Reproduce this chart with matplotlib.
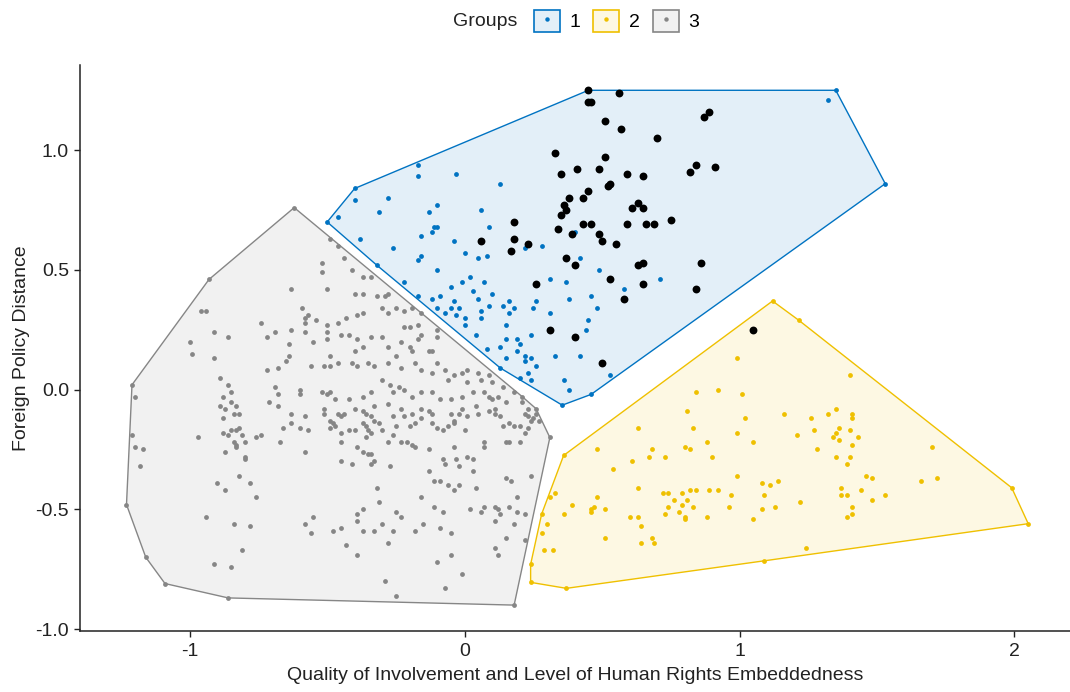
import numpy as np
import matplotlib
matplotlib.use("Agg")
import matplotlib.pyplot as plt
from matplotlib.patches import Polygon, Patch
from matplotlib.lines import Line2D

plt.rcParams["font.family"] = ["Liberation Sans", "DejaVu Sans"]
plt.rcParams["axes.unicode_minus"] = False

# group 3 (grey)
grp3 = [
    (-0.62, 0.76), (-0.93, 0.46), (-1.21, 0.02), (-1.21, -0.19), (-1.23, -0.48), (-1.16, -0.70),
    (-1.09, -0.81), (-0.86, -0.87), (0.18, -0.90), (0.31, -0.20), (0.26, -0.08),
    (-0.49, 0.63), (-0.52, 0.53), (-0.52, 0.49), (-0.63, 0.42), (-0.50, 0.42), (-0.96, 0.33),
    (-0.94, 0.33), (-0.59, 0.34), (-0.58, 0.30), (-0.57, 0.31), (-0.58, 0.28), (-0.54, 0.29),
    (-0.50, 0.27), (-0.74, 0.28), (-0.63, 0.25), (-0.58, 0.24), (-0.50, 0.24), (-0.91, 0.24),
    (-0.86, 0.22), (-1.00, 0.20), (-0.72, 0.22), (-0.69, 0.24), (-0.55, 0.20), (-0.50, 0.21),
    (-0.64, 0.19), (-0.99, 0.15), (-0.64, 0.14), (-0.65, 0.12), (-0.49, 0.14), (-0.91, 0.13),
    (-0.56, 0.10), (-0.51, 0.10), (-0.72, 0.08), (-0.68, 0.09), (-1.20, -0.03), (-0.89, 0.05),
    (-0.86, 0.02), (-0.69, 0.01), (-0.68, -0.02), (-0.60, 0.00), (-0.60, -0.02), (-0.52, -0.01),
    (-0.50, -0.02), (-0.85, -0.01), (-0.88, -0.03), (-0.85, -0.05), (-0.83, -0.07), (-0.89, -0.07),
    (-0.87, -0.08), (-0.84, -0.10), (-0.82, -0.10), (-0.71, -0.05), (-0.68, -0.07), (-0.63, -0.10),
    (-0.58, -0.11), (-0.51, -0.08),
    (-1.20, -0.24), (-1.17, -0.25), (-1.18, -0.32), (-0.97, -0.20), (-0.88, -0.12), (-0.88, -0.18),
    (-0.86, -0.19), (-0.85, -0.17), (-0.83, -0.17), (-0.82, -0.16), (-0.81, -0.19), (-0.84, -0.22),
    (-0.83, -0.23), (-0.83, -0.24), (-0.87, -0.26), (-0.80, -0.22), (-0.80, -0.28), (-0.80, -0.29),
    (-0.76, -0.20), (-0.74, -0.19), (-0.66, -0.16), (-0.63, -0.14), (-0.60, -0.16), (-0.57, -0.17),
    (-0.67, -0.22), (-0.58, -0.26), (-0.49, -0.13), (-0.49, -0.16), (-0.82, -0.36), (-0.90, -0.39),
    (-0.87, -0.42), (-0.78, -0.39), (-0.76, -0.45), (-0.94, -0.53), (-0.84, -0.56), (-0.78, -0.57),
    (-0.81, -0.67), (-0.91, -0.73), (-0.85, -0.74), (-0.58, -0.56), (-0.55, -0.53), (-0.56, -0.60),
    (-0.48, -0.59),
    (-0.48, -0.14), (-0.47, -0.15), (-0.45, -0.11), (-0.44, -0.10), (-0.37, -0.09), (-0.34, -0.11),
    (-0.33, -0.13), (-0.31, -0.14), (-0.36, -0.15), (-0.35, -0.17), (-0.34, -0.18), (-0.36, -0.20),
    (-0.40, -0.17), (-0.42, -0.17), (-0.45, -0.18), (-0.45, -0.22), (-0.37, -0.14), (-0.30, -0.17),
    (-0.26, -0.19), (-0.28, -0.22), (-0.26, -0.11), (-0.22, -0.11), (-0.25, -0.15), (-0.23, -0.22),
    (-0.21, -0.22), (-0.19, -0.23), (-0.18, -0.24), (-0.20, -0.15), (-0.18, -0.14), (-0.16, -0.12),
    (-0.13, -0.09), (-0.12, -0.14), (-0.10, -0.16), (-0.08, -0.17), (-0.06, -0.15), (-0.04, -0.14),
    (-0.04, -0.13), (-0.02, -0.10), (0.00, -0.17), (0.01, -0.11), (0.05, -0.10), (0.07, -0.22),
    (0.07, -0.24), (0.11, -0.10), (0.13, -0.11), (0.14, -0.15), (0.16, -0.14), (0.18, -0.15),
    (0.20, -0.15), (0.22, -0.18), (0.23, -0.11), (0.24, -0.13), (0.26, -0.10), (0.27, -0.13),
    (0.15, -0.22), (0.16, -0.22), (0.20, -0.22), (-0.39, -0.24), (-0.37, -0.26), (-0.35, -0.27),
    (-0.34, -0.27), (-0.33, -0.30), (-0.34, -0.31), (-0.45, -0.30), (-0.41, -0.31), (-0.27, -0.32),
    (-0.13, -0.25), (-0.04, -0.24), (-0.03, -0.29), (-0.08, -0.29), (-0.07, -0.31), (-0.02, -0.32),
    (0.01, -0.28), (0.03, -0.29), (0.03, -0.34), (-0.13, -0.34), (-0.11, -0.38), (-0.09, -0.38),
    (-0.06, -0.40), (-0.04, -0.42), (-0.02, -0.40), (0.04, -0.41), (0.24, -0.36), (0.15, -0.37),
    (0.17, -0.38), (0.19, -0.45), (0.16, -0.49), (0.19, -0.51), (0.22, -0.52), (0.02, -0.50),
    (0.06, -0.51), (0.07, -0.49), (0.11, -0.49), (0.12, -0.50), (0.13, -0.52), (0.11, -0.55),
    (0.18, -0.56), (0.15, -0.62), (0.22, -0.63), (0.11, -0.66), (0.12, -0.69), (-0.05, -0.69),
    (-0.01, -0.77), (-0.10, -0.72), (-0.07, -0.83), (-0.05, -0.60), (-0.09, -0.58), (-0.08, -0.51),
    (-0.11, -0.49), (-0.16, -0.45), (-0.15, -0.56), (-0.18, -0.59), (-0.23, -0.53), (-0.25, -0.51),
    (-0.32, -0.41), (-0.31, -0.47), (-0.37, -0.50), (-0.39, -0.52), (-0.39, -0.55), (-0.37, -0.59),
    (-0.33, -0.59), (-0.30, -0.56), (-0.26, -0.59), (-0.28, -0.64), (-0.45, -0.58), (-0.43, -0.65),
    (-0.39, -0.69), (-0.29, -0.80), (-0.25, -0.86),
    (-0.46, 0.60), (-0.44, 0.55), (-0.41, 0.50), (-0.37, 0.47), (-0.34, 0.47), (-0.40, 0.40),
    (-0.37, 0.40), (-0.32, 0.39), (-0.29, 0.39), (-0.28, 0.40), (-0.25, 0.34), (-0.22, 0.33),
    (-0.19, 0.34), (-0.16, 0.32), (-0.30, 0.34), (-0.28, 0.32), (-0.39, 0.31), (-0.37, 0.32),
    (-0.43, 0.30), (-0.46, 0.28), (-0.45, 0.23), (-0.42, 0.23), (-0.39, 0.21), (-0.37, 0.18),
    (-0.40, 0.16), (-0.34, 0.22), (-0.30, 0.22), (-0.22, 0.26), (-0.20, 0.26), (-0.17, 0.27),
    (-0.16, 0.23), (-0.17, 0.21), (-0.10, 0.25), (-0.10, 0.22), (-0.13, 0.16), (-0.12, 0.16),
    (-0.28, 0.18), (-0.23, 0.20), (-0.20, 0.18), (-0.19, 0.16), (-0.25, 0.14), (-0.46, 0.11),
    (-0.49, 0.10), (-0.41, 0.11), (-0.39, 0.10), (-0.35, 0.11), (-0.33, 0.10), (-0.28, 0.11),
    (-0.23, 0.09), (-0.18, 0.11), (-0.16, 0.08), (-0.10, 0.11), (-0.07, 0.08), (-0.12, 0.07),
    (-0.01, 0.07), (-0.04, 0.06), (0.01, 0.08), (0.05, 0.07), (0.09, 0.06), (-0.06, 0.04),
    (0.01, 0.03), (0.06, 0.04), (0.10, 0.03), (0.07, -0.01), (0.14, 0.01), (0.18, -0.01),
    (0.21, -0.03), (-0.49, -0.01), (-0.47, -0.04), (-0.42, -0.04), (-0.37, -0.03), (-0.34, -0.01),
    (-0.30, 0.04), (-0.27, 0.02), (-0.26, -0.01), (-0.24, 0.01), (-0.22, 0.00), (-0.19, -0.03),
    (-0.16, -0.01), (-0.12, -0.01), (-0.09, -0.04), (-0.05, -0.04), (-0.01, -0.03), (0.03, -0.01),
    (0.09, -0.03), (0.10, -0.04), (0.12, -0.03), (0.15, -0.05), (0.21, -0.05), (0.23, -0.08),
    (-0.51, -0.10), (-0.46, -0.10), (-0.40, -0.08), (-0.36, -0.10), (-0.33, -0.07), (-0.28, -0.06),
    (-0.23, -0.08), (-0.19, -0.10), (-0.16, -0.08), (-0.12, -0.10), (-0.05, -0.10), (-0.01, -0.08),
    (0.04, -0.07), (0.09, -0.09), (0.11, -0.08), (0.22, -0.10), (0.25, -0.12), (0.23, -0.16),
]

# group 1 (blue)
grp1 = [
    (-0.50, 0.70), (-0.40, 0.84), (-0.17, 0.94), (1.35, 1.25), (1.53, 0.86), (0.46, -0.02),
    (0.355, -0.065), (-0.32, 0.52), (0.13, 0.09),
    (-0.46, 0.72), (-0.40, 0.79), (-0.17, 0.89), (-0.03, 0.90), (0.13, 0.86), (-0.28, 0.80),
    (-0.31, 0.74), (-0.13, 0.74), (-0.10, 0.77), (-0.11, 0.68), (-0.10, 0.68), (-0.12, 0.66),
    (-0.16, 0.64), (-0.38, 0.63), (-0.26, 0.59), (-0.16, 0.56), (-0.17, 0.54), (-0.10, 0.50),
    (-0.04, 0.62), (0.00, 0.57), (0.06, 0.75), (0.09, 0.68), (0.05, 0.55), (0.08, 0.56),
    (-0.22, 0.45), (-0.17, 0.39), (-0.12, 0.38), (-0.09, 0.39), (-0.05, 0.43), (-0.01, 0.45),
    (0.02, 0.47), (0.07, 0.45), (0.03, 0.41), (0.10, 0.40), (-0.04, 0.37), (-0.05, 0.34),
    (-0.02, 0.34), (-0.07, 0.32), (-0.10, 0.34), (-0.03, 0.31), (0.00, 0.30), (0.00, 0.27),
    (0.05, 0.38), (0.06, 0.33), (0.06, 0.30), (0.09, 0.35), (0.14, 0.35), (0.16, 0.37),
    (0.16, 0.32), (0.18, 0.34), (0.15, 0.27), (0.04, 0.23), (0.08, 0.17), (0.13, 0.18),
    (0.15, 0.21), (0.19, 0.21), (0.20, 0.19), (0.15, 0.13), (0.19, 0.16), (0.22, 0.14),
    (0.24, 0.13), (0.26, 0.10), (0.23, 0.07), (0.20, 0.05), (0.24, 0.04), (0.22, 0.59),
    (0.28, 0.60), (0.31, 0.46), (0.37, 0.45), (0.26, 0.37), (0.25, 0.34), (0.31, 0.32),
    (0.24, 0.23), (0.33, 0.14), (0.36, 0.04), (0.38, 0.00), (1.32, 1.21), (0.40, 0.66),
    (0.42, 0.55), (0.49, 0.50), (0.38, 0.38), (0.46, 0.39), (0.48, 0.34), (0.45, 0.29),
    (0.44, 0.25), (0.58, 0.42), (0.71, 0.46), (0.42, 0.14), (0.53, 0.06), (0.22, 0.12),
]

# group 2 (yellow)
grp2 = [
    (1.12, 0.37), (1.215, 0.29), (1.99, -0.41), (2.05, -0.56), (1.09, -0.715), (0.37, -0.83),
    (0.24, -0.805), (0.24, -0.73), (0.36, -0.275),
    (0.99, 0.13), (0.84, -0.01), (0.92, 0.00), (1.01, -0.02), (0.81, -0.09), (0.63, -0.16),
    (0.83, -0.16), (1.02, -0.12), (0.99, -0.18), (1.05, -0.22), (0.88, -0.22), (0.80, -0.24),
    (0.82, -0.25), (0.68, -0.25), (0.67, -0.28), (0.73, -0.28), (0.48, -0.25), (0.61, -0.30),
    (0.90, -0.28), (0.54, -0.33), (0.99, -0.36), (0.33, -0.43), (0.31, -0.45), (0.39, -0.48),
    (0.36, -0.52), (0.28, -0.52), (0.30, -0.56), (0.28, -0.60), (0.29, -0.67), (0.32, -0.67),
    (0.48, -0.45), (0.46, -0.50), (0.46, -0.51), (0.47, -0.49), (0.51, -0.50), (0.51, -0.62),
    (0.60, -0.53), (0.63, -0.53), (0.64, -0.57), (0.64, -0.64), (0.68, -0.62), (0.69, -0.64),
    (0.63, -0.41), (0.72, -0.43), (0.74, -0.43), (0.79, -0.43), (0.82, -0.42), (0.84, -0.42),
    (0.89, -0.42), (0.92, -0.42), (0.97, -0.44), (0.76, -0.46), (0.74, -0.49), (0.81, -0.46),
    (0.79, -0.48), (0.83, -0.49), (0.78, -0.51), (0.80, -0.53), (0.80, -0.54), (0.73, -0.52),
    (0.88, -0.53), (0.96, -0.49), (1.08, -0.39), (1.11, -0.40), (1.14, -0.38), (1.09, -0.44),
    (1.08, -0.50), (1.13, -0.49), (1.05, -0.54),
    (1.40, 0.06), (1.16, -0.10), (1.26, -0.12), (1.32, -0.10), (1.35, -0.08), (1.41, -0.12),
    (1.41, -0.10), (1.27, -0.17), (1.21, -0.19), (1.36, -0.16), (1.35, -0.18), (1.40, -0.17),
    (1.34, -0.20), (1.36, -0.21), (1.43, -0.20), (1.41, -0.23), (1.28, -0.25), (1.35, -0.28),
    (1.40, -0.28), (1.39, -0.31), (1.70, -0.24), (1.66, -0.38), (1.72, -0.37), (1.46, -0.36),
    (1.48, -0.37), (1.44, -0.42), (1.53, -0.44), (1.48, -0.46), (1.37, -0.41), (1.37, -0.44),
    (1.39, -0.44), (1.41, -0.49), (1.39, -0.53), (1.41, -0.52), (1.22, -0.47), (1.24, -0.66),
]

# highlighted cases, with the group each belongs to
marked = [
    (0.33, 0.99), (0.35, 0.90), (0.38, 0.80), (0.36, 0.77), (0.37, 0.75), (0.35, 0.73),
    (0.34, 0.67), (0.39, 0.65), (0.18, 0.70), (0.06, 0.62), (0.18, 0.63), (0.23, 0.61),
    (0.17, 0.58), (0.37, 0.55), (0.26, 0.44), (0.31, 0.25),
    (0.45, 1.25), (0.56, 1.24), (0.45, 1.20), (0.46, 1.20), (0.51, 1.12), (0.57, 1.09),
    (0.70, 1.05), (0.87, 1.14), (0.89, 1.16), (0.51, 0.97), (0.49, 0.92), (0.41, 0.92),
    (0.59, 0.90), (0.65, 0.89), (0.82, 0.91), (0.84, 0.94), (0.91, 0.93), (0.52, 0.85),
    (0.53, 0.86), (0.45, 0.83), (0.43, 0.80), (0.61, 0.76), (0.63, 0.78), (0.65, 0.76),
    (0.75, 0.71), (0.43, 0.69), (0.46, 0.69), (0.59, 0.69), (0.66, 0.69), (0.69, 0.69),
    (0.49, 0.65), (0.50, 0.62), (0.55, 0.61), (0.40, 0.52), (0.63, 0.52), (0.65, 0.53),
    (0.86, 0.53), (0.53, 0.46), (0.65, 0.44), (0.84, 0.42), (0.58, 0.38), (0.40, 0.22),
    (0.50, 0.11), (1.05, 0.25),
]
marked_grp = [1] * 59 + [2]

groups = ["1", "2", "3"]
colors = {"1": "#0073C2", "2": "#EFC000", "3": "#868686"}


def convex_hull(pts):
    pts = sorted(set(map(tuple, pts)))
    if len(pts) < 3:
        return pts

    def cross(o, a, b):
        return (a[0] - o[0]) * (b[1] - o[1]) - (a[1] - o[1]) * (b[0] - o[0])

    lower, upper = [], []
    for p in pts:
        while len(lower) >= 2 and cross(lower[-2], lower[-1], p) <= 0:
            lower.pop()
        lower.append(p)
    for p in reversed(pts):
        while len(upper) >= 2 and cross(upper[-2], upper[-1], p) <= 0:
            upper.pop()
        upper.append(p)
    return lower[:-1] + upper[:-1]


members = {
    "1": grp1 + [p for p, g in zip(marked, marked_grp) if g == 1],
    "2": grp2 + [p for p, g in zip(marked, marked_grp) if g == 2],
    "3": grp3,
}
dots = {"1": np.array(grp1), "2": np.array(grp2), "3": np.array(grp3)}

fig = plt.figure(figsize=(10.7, 6.92), dpi=100)
ax = fig.add_axes([0.0748, 0.0882, 0.9252, 0.818])

for g in groups:
    hull = convex_hull(members[g])
    ax.add_patch(Polygon(hull, closed=True, facecolor=colors[g], alpha=0.11,
                         edgecolor="none", zorder=1))
    ax.add_patch(Polygon(hull, closed=True, facecolor="none", edgecolor=colors[g],
                         linewidth=1.0, zorder=2))

for g in groups:
    ax.scatter(dots[g][:, 0], dots[g][:, 1], s=12, color=colors[g], linewidths=0, zorder=3)

mk = np.array(marked)
ax.scatter(mk[:, 0], mk[:, 1], s=32, color="black", linewidths=0, zorder=4)

ax.set_xlim(-1.399, 2.202)
ax.set_ylim(-1.008, 1.356)
ax.set_xticks([-1, 0, 1, 2])
ax.set_xticklabels(["-1", "0", "1", "2"])
ax.set_yticks([-1.0, -0.5, 0.0, 0.5, 1.0])
ax.set_yticklabels(["-1.0", "-0.5", "0.0", "0.5", "1.0"])
ax.tick_params(labelsize=14, length=4, width=1, colors="#222222")
ax.tick_params(axis="x", pad=5)
ax.tick_params(axis="y", pad=4)
for side in ["top", "right"]:
    ax.spines[side].set_visible(False)
for side in ["left", "bottom"]:
    ax.spines[side].set_linewidth(1.1)
    ax.spines[side].set_color("#222222")

ax.set_xlabel("Quality of Involvement and Level of Human Rights Embeddedness",
              fontsize=14, color="#222222", labelpad=5)
ax.set_ylabel("Foreign Policy Distance", fontsize=14, color="#222222", labelpad=4)

# legend on top
fig.text(453 / 1070, 1 - 21 / 692, "Groups", fontsize=14, color="#222222",
         ha="left", va="center")
handles = []
for g in groups:
    box = Patch(facecolor=matplotlib.colors.to_rgba(colors[g], 0.11), edgecolor=colors[g],
                linewidth=1.2)
    dot = Line2D([], [], marker="o", linestyle="none", markersize=3.2,
                 markerfacecolor=colors[g], markeredgewidth=0)
    handles.append((box, dot))
fig.legend(handles, groups, loc="center left", bbox_to_anchor=(534 / 1070, 1 - 21 / 692),
           ncol=3, frameon=False, fontsize=14, handlelength=1.34, handleheight=1.34,
           handletextpad=0.5, columnspacing=0.65, borderaxespad=0, borderpad=0)

fig.savefig("out.png", dpi=100)
